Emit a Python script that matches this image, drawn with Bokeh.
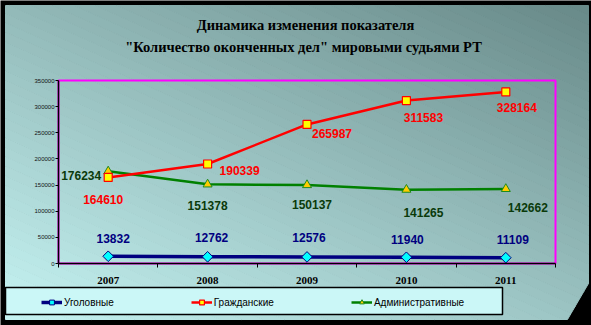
from bokeh.plotting import figure
from bokeh.models import (ColumnDataSource, FixedTicker, BasicTickFormatter, Legend,
                          LegendItem, Range1d, Label, BoxAnnotation, PolyAnnotation)
from bokeh.core.properties import value
from bokeh.embed import file_html
from bokeh.resources import INLINE

# ---------------- data ----------------
years = ["2007", "2008", "2009", "2010", "2011"]
criminal = [13832, 12762, 12576, 11940, 11109]
civil = [164610, 190339, 265987, 311583, 328164]
admin = [176234, 151378, 150137, 141265, 142662]
series_names = ["Уголовные", "Гражданские", "Административные"]
title_lines = ["Динамика изменения показателя",
               "\"Количество оконченных дел\" мировыми судьями РТ"]
y_ticks = [0, 50000, 100000, 150000, 200000, 250000, 300000, 350000]

# ---------------- layout / style ----------------
W, H = 591, 325
PX_L, PX_R, PX_T, PX_B = 58, 555, 80, 263     # plot area on the page

crim_dx = [5, 4, 2, 1, 7]
crim_dy = [-18, -19, -19, -18, -18]
civ_dx = [-5, 32, 25, 17, 11]
civ_dy = [22, 7, 9, 17, 16]
adm_dx = [-27, 0, 5, 17, 22]
adm_dy = [4, 21, 20, 23, 19]

styles_line = {"Уголовные": dict(line_color="#000080", line_width=3.5),
               "Гражданские": dict(line_color="#FF0000", line_width=2.5),
               "Административные": dict(line_color="#008000", line_width=2.5)}
styles_marker = {"Уголовные": dict(marker="square", size=7.5, angle=0.785398, fill_color="#00FFFF",
                                   line_color="#000080", line_width=1),
                 "Гражданские": dict(marker="square", size=8, fill_color="#FFFF00",
                                     line_color="#FF0000", line_width=1.2),
                 "Административные": dict(marker="triangle", size=9, fill_color="#FFCC00",
                                          line_color="#1E8A1E", line_width=1)}

xs = list(range(len(years)))
x_lo, x_hi = -0.5, len(years) - 0.5
y_lo, y_hi = 0, y_ticks[-1]
xu = (PX_R - PX_L) / (x_hi - x_lo)
yu = (PX_B - PX_T) / (y_hi - y_lo)

p = figure(width=W, height=H, output_backend="svg", toolbar_location=None,
           x_range=Range1d(x_lo - PX_L / xu, x_hi + (W - PX_R) / xu),
           y_range=Range1d(y_lo - (H - PX_B) / yu, y_hi + PX_T / yu),
           min_border=0, border_fill_color="black", background_fill_color="black",
           outline_line_color=None)
p.grid.visible = False

# ---------------- background panel (gradient bands) ----------------
panel = [(5, 5), (588, 5), (588, 283), (567, 319), (5, 319)]
baseR, baseG = 198.0, 244.0
gxG, gyG = -48.5, -58.5
sR = 0.88
A = gxG / 583.0
B = -gyG / 314.0
C = -A * 5 + gyG * 319.0 / 314.0


def clip(poly, a, b, c):
    out = []
    n = len(poly)
    for i in range(n):
        P, Q = poly[i], poly[(i + 1) % n]
        fp = a * P[0] + b * P[1] - c
        fq = a * Q[0] + b * Q[1] - c
        if fp <= 0:
            out.append(P)
        if fp * fq < 0:
            t = fp / (fp - fq)
            out.append((P[0] + t * (Q[0] - P[0]), P[1] + t * (Q[1] - P[1])))
    return out


vmin, vmax = gxG + gyG, 0.0
nb = 60
for k in range(nb):
    v0 = vmin + (vmax - vmin) * k / nb
    v1 = vmin + (vmax - vmin) * (k + 1) / nb
    poly = clip(panel, A, B, v1 - C)
    poly = clip(poly, -A, -B, -(v0 - C))
    if len(poly) < 3:
        continue
    vm = 0.5 * (v0 + v1)
    col = "#%02x%02x%02x" % (int(round(baseR + sR * vm)), int(round(baseG + vm)),
                             int(round(baseG - 1 + vm)))
    p.add_layout(PolyAnnotation(xs=[q[0] for q in poly], ys=[q[1] for q in poly],
                                xs_units="canvas", ys_units="canvas",
                                fill_color=col, fill_alpha=1, line_color=col,
                                line_alpha=1, line_width=1, level="underlay"))

# legend box
p.add_layout(BoxAnnotation(left=5, right=502, top=287, bottom=314,
                           left_units="canvas", right_units="canvas",
                           top_units="canvas", bottom_units="canvas",
                           fill_color="#CBF7F7", fill_alpha=1,
                           line_color="black", line_alpha=1, line_width=1.5,
                           level="underlay"))

# plot-area border
p.add_layout(BoxAnnotation(left=x_lo, right=x_hi, bottom=y_lo, top=y_hi,
                           fill_color=None, line_color="#FF00FF", line_alpha=1,
                           line_width=2, level="underlay"))

# ---------------- titles ----------------
for t, (tx, ty) in zip(title_lines, [(305, 24), (303, 46)]):
    p.add_layout(Label(x=tx, y=ty, x_units="canvas", y_units="canvas", text=t,
                       text_align="center", text_baseline="middle",
                       text_font="Liberation Serif", text_font_style="bold",
                       text_font_size="14.5px", text_color="black"))

# ---------------- axes (drawn at the plot-area edges) ----------------
p.yaxis.fixed_location = x_lo
p.yaxis.bounds = (y_lo, y_hi)
p.yaxis.ticker = FixedTicker(ticks=y_ticks)
p.yaxis.formatter = BasicTickFormatter(use_scientific=False)
p.yaxis.major_label_text_font = "Liberation Sans"
p.yaxis.major_label_text_font_size = "6px"
p.yaxis.major_label_text_color = "#111111"
p.yaxis.major_tick_out = 3
p.yaxis.major_tick_in = 0
p.yaxis.minor_tick_out = 0
p.yaxis.minor_tick_in = 0
p.yaxis.major_label_standoff = 1
p.yaxis.axis_line_color = "black"
p.yaxis.axis_line_width = 1.5

p.xaxis.fixed_location = y_lo
p.xaxis.bounds = (x_lo, x_hi)
p.xaxis.ticker = FixedTicker(ticks=xs, minor_ticks=[x - 0.5 for x in xs] + [xs[-1] + 0.5])
p.xaxis.major_label_overrides = {x: yr for x, yr in zip(xs, years)}
p.xaxis.major_label_text_font = "Liberation Serif"
p.xaxis.major_label_text_font_style = "bold"
p.xaxis.major_label_text_font_size = "11px"
p.xaxis.major_label_text_color = "black"
p.xaxis.major_tick_out = 0
p.xaxis.major_tick_in = 0
p.xaxis.minor_tick_out = 4
p.xaxis.minor_tick_in = 0
p.xaxis.minor_tick_line_color = "black"
p.xaxis.major_label_standoff = 9
p.xaxis.axis_line_color = "black"
p.xaxis.axis_line_width = 1.5

# ---------------- series ----------------
src_c = ColumnDataSource(dict(x=xs, y=criminal, t=[str(v) for v in criminal], dx=crim_dx, dy=crim_dy))
src_v = ColumnDataSource(dict(x=xs, y=civil, t=[str(v) for v in civil], dx=civ_dx, dy=civ_dy))
src_a = ColumnDataSource(dict(x=xs, y=admin, t=[str(v) for v in admin], dx=adm_dx, dy=adm_dy))
series_src = {"Уголовные": src_c, "Гражданские": src_v, "Административные": src_a}

lines, marks = {}, {}
for name in ["Административные", "Гражданские", "Уголовные"]:
    lines[name] = p.line("x", "y", source=series_src[name], **styles_line[name])
for name in ["Административные", "Гражданские", "Уголовные"]:
    marks[name] = p.scatter("x", "y", source=series_src[name], **styles_marker[name])

for src, col in ((src_c, "#000080"), (src_v, "#FF0000"), (src_a, "#0A3A0A")):
    p.text("x", "y", text="t", source=src, x_offset="dx", y_offset="dy",
           text_font=value("Liberation Sans"), text_font_style="bold",
           text_font_size="12px", text_color=col,
           text_align="center", text_baseline="middle")

# ---------------- legend ----------------
legend = Legend(items=[LegendItem(label=n, renderers=[lines[n], marks[n]]) for n in series_names],
                orientation="horizontal", location=(41, H - 308),
                glyph_width=21, glyph_height=12, label_height=12,
                label_standoff=2, spacing=77, padding=2, margin=0,
                border_line_color=None, background_fill_alpha=0,
                label_text_font="Liberation Sans", label_text_font_size="10px",
                label_text_color="black")
p.add_layout(legend)

open("out.html", "w").write(file_html(p, INLINE))
